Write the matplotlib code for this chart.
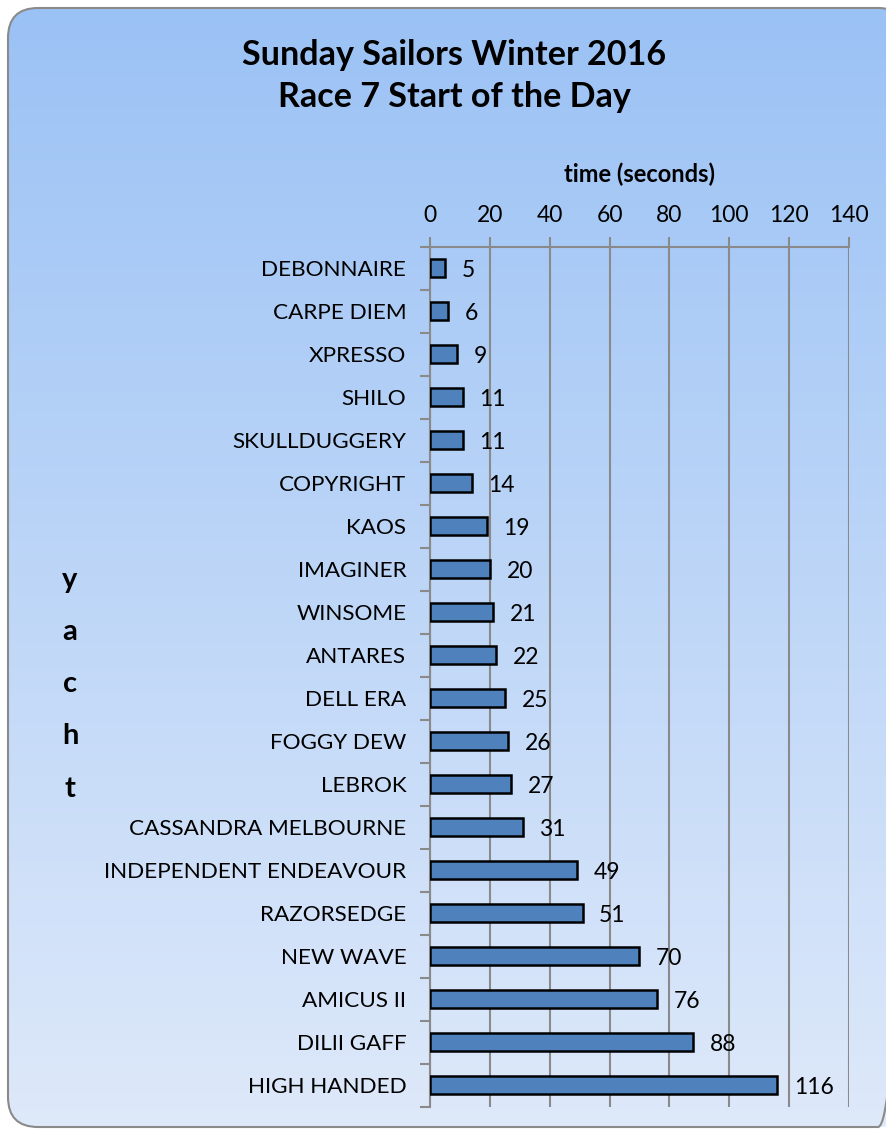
import numpy as np
import matplotlib.pyplot as plt
from matplotlib.patches import FancyBboxPatch

yachts = [
    "DEBONNAIRE", "CARPE DIEM", "XPRESSO", "SHILO", "SKULLDUGGERY",
    "COPYRIGHT", "KAOS", "IMAGINER", "WINSOME", "ANTARES", "DELL ERA",
    "FOGGY DEW", "LEBROK", "CASSANDRA MELBOURNE", "INDEPENDENT ENDEAVOUR",
    "RAZORSEDGE", "NEW WAVE", "AMICUS II", "DILII GAFF", "HIGH HANDED",
]
times = [5, 6, 9, 11, 11, 14, 19, 20, 21, 22, 25, 26, 27, 31, 49, 51, 70, 76, 88, 116]
xticks = [0, 20, 40, 60, 80, 100, 120, 140]

plt.rcParams["font.family"] = ["Lato", "DejaVu Sans"]

fig = plt.figure(figsize=(8.86, 11.31), dpi=100)

# background with rounded border and vertical gradient
bg = fig.add_axes([0, 0, 1, 1], zorder=-10)
bg.set_xlim(0, 886)
bg.set_ylim(1131, 0)
bg.axis("off")
box = FancyBboxPatch((8, 8), 900, 1119, boxstyle="round,pad=0,rounding_size=30",
                     facecolor="none", edgecolor="#8a8a8a", linewidth=1.5)
bg.add_patch(box)
top = np.array([155, 194, 245]) / 255
bot = np.array([222, 233, 250]) / 255
t = np.linspace(0, 1, 256)[:, None]
grad = (top[None, :] * (1 - t) + bot[None, :] * t)[:, None, :]
im = bg.imshow(grad, extent=(8, 908, 1127, 8), aspect="auto", zorder=0)
im.set_clip_path(box)

ax = fig.add_axes([0.4853, 0.0215, 0.4729, 0.7604])
ax.patch.set_alpha(0)
y = np.arange(len(yachts))
ax.barh(y, times, height=0.42, color="#4f81bd", edgecolor="black", linewidth=1.8, zorder=3)
for yi, v in zip(y, times):
    ax.annotate(str(v), (v, yi), xytext=(12, -2), textcoords="offset points",
                ha="left", va="center", fontsize=16.5, zorder=5)

ax.set_xlim(0, 140)
ax.set_ylim(len(yachts) - 0.5, -0.5)
ax.set_xticks(xticks)
ax.xaxis.tick_top()
ax.xaxis.set_label_position("top")
ax.set_xlabel("time (seconds)", fontsize=17, fontweight="bold", labelpad=16.5)
ax.tick_params(axis="x", length=7, width=1.5, color="#8a8a8a", labelsize=16.5, pad=7.6)
ax.set_yticks(y)
ax.set_yticklabels(yachts)
ax.tick_params(axis="y", which="major", length=0, labelsize=16.2, pad=17)
ax.set_yticks(np.arange(-0.5, len(yachts), 1), minor=True)
ax.tick_params(axis="y", which="minor", length=7, width=1.5, color="#8a8a8a")
ax.grid(axis="x", color="#8a8a8a", linewidth=1.5, zorder=1)
ax.set_axisbelow(True)
for s in ["right", "bottom"]:
    ax.spines[s].set_visible(False)
for s in ["top", "left"]:
    ax.spines[s].set_color("#8a8a8a")
    ax.spines[s].set_linewidth(1.5)

fig.text(0.5125, 0.9328, "Sunday Sailors Winter 2016\nRace 7 Start of the Day",
         ha="center", va="center", fontsize=24.6, fontweight="bold", linespacing=1.4)
fig.text(0.079, 0.3952, "y\na\nc\nh\nt", ha="center", va="center",
         fontsize=21, fontweight="bold", linespacing=2.25)

fig.savefig("out.png", dpi=100)
